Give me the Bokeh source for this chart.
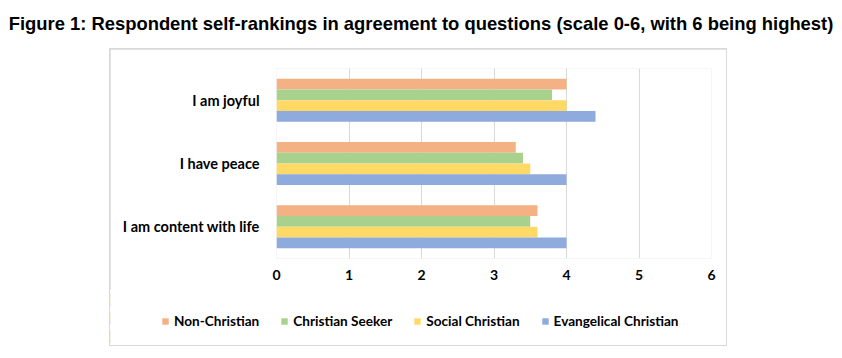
from bokeh.plotting import figure
from bokeh.models import Div, Legend, LegendItem, FactorRange, Range1d, ColumnDataSource, FixedTicker
from bokeh.layouts import column, row
from bokeh.transform import dodge
from bokeh.embed import file_html
from bokeh.resources import INLINE

title_text = "Figure 1: Respondent self-rankings in agreement to questions (scale 0-6, with 6 being highest)"
categories = ["I am content with life", "I have peace", "I am joyful"]
series_names = ["Non-Christian", "Christian Seeker", "Social Christian", "Evangelical Christian"]
non_christian = [3.6, 3.3, 4.0]
christian_seeker = [3.5, 3.4, 3.8]
social_christian = [3.6, 3.5, 4.0]
evangelical_christian = [4.0, 4.0, 4.4]
x_ticks = [0, 1, 2, 3, 4, 5, 6]
colors = ["#F4B183", "#A9D18E", "#FFD966", "#8FAADC"]

source = ColumnDataSource(dict(
    cat=categories,
    nc=non_christian,
    cs=christian_seeker,
    sc=social_christian,
    ec=evangelical_christian,
))

title = Div(
    text='<div style="line-height:48px; white-space:nowrap;">%s</div>' % title_text,
    width=826, height=48, margin=(0, 0, 0, 8),
    styles={"text-align": "center", "font-family": "Liberation Sans, Arial, sans-serif",
            "font-weight": "bold", "font-size": "18.4px",
            "color": "#000000", "width": "826px"},
)

yr = FactorRange(factors=categories, range_padding=0)

p = figure(
    width=616, height=241,
    y_range=yr, x_range=Range1d(0, 6),
    output_backend="svg", toolbar_location=None,
    min_border_left=166, min_border_right=15, min_border_top=19, min_border_bottom=32,
    margin=(1, 1, 0, 1),
)
p.outline_line_color = None
p.background_fill_color = "white"
p.border_fill_color = "white"

fields = ["nc", "cs", "sc", "ec"]
offsets = [0.255, 0.085, -0.085, -0.255]
for f, off, c in zip(fields, offsets, colors):
    p.hbar(y=dodge("cat", off, range=yr), right=f, left=0, height=0.17,
           source=source, fill_color=c, line_color=None)

p.xgrid.ticker = FixedTicker(ticks=x_ticks)
p.xgrid.grid_line_color = "#d9d9d9"
p.ygrid.grid_line_color = None
p.xaxis.ticker = FixedTicker(ticks=x_ticks)
p.xaxis.axis_line_color = None
p.xaxis.major_tick_line_color = None
p.xaxis.minor_tick_line_color = None
p.xaxis.major_tick_out = 0
p.xaxis.major_label_text_font = "Lato"
p.xaxis.major_label_text_font_style = "bold"
p.xaxis.major_label_text_font_size = "14px"
p.xaxis.major_label_text_color = "#000000"
p.xaxis.major_label_standoff = 11

p.yaxis.axis_line_color = None
p.yaxis.major_tick_line_color = None
p.yaxis.minor_tick_line_color = None
p.yaxis.major_tick_out = 0
p.yaxis.major_label_text_font = "Lato"
p.yaxis.major_label_text_font_style = "bold"
p.yaxis.major_label_text_font_size = "14.5px"
p.yaxis.major_label_text_color = "#000000"
p.yaxis.major_label_standoff = 17

# legend strip: same bars, but the strip's x range keeps them out of view
lf = figure(
    width=616, height=55, x_range=Range1d(10, 11), y_range=yr,
    output_backend="svg", toolbar_location=None,
    x_axis_type=None, y_axis_type=None,
    min_border=0, margin=(0, 0, 0, 0),
)
lf.outline_line_color = None
lf.background_fill_color = "white"
lf.border_fill_color = "white"
lf.xgrid.grid_line_color = None
lf.ygrid.grid_line_color = None
legend_renderers = []
for f, off, c in zip(fields, offsets, colors):
    r = lf.hbar(y=dodge("cat", off, range=yr), right=f, left=0, height=0.17,
                source=source, fill_color=c, line_color=None)
    legend_renderers.append(r)

legend = Legend(
    items=[LegendItem(label=n, renderers=[r]) for n, r in zip(series_names, legend_renderers)],
    orientation="horizontal",
    location=(51, 16),
    padding=0, margin=0, spacing=21,
    glyph_width=8, glyph_height=8, label_standoff=5,
    label_text_font="Lato", label_text_font_style="bold", label_text_font_size="13.6px",
    label_text_color="#000000",
    border_line_color=None, background_fill_alpha=0,
)
lf.add_layout(legend)

legend_strip = row(lf, spacing=0, margin=(0, 1, 1, 1), styles={"background-color": "white"})

box = column(p, legend_strip, spacing=0, margin=(0, 0, 0, 109),
             styles={"background-color": "#d9d9d9"})

layout = column(title, box, spacing=0)
open("out.html", "w").write(file_html(layout, INLINE))
